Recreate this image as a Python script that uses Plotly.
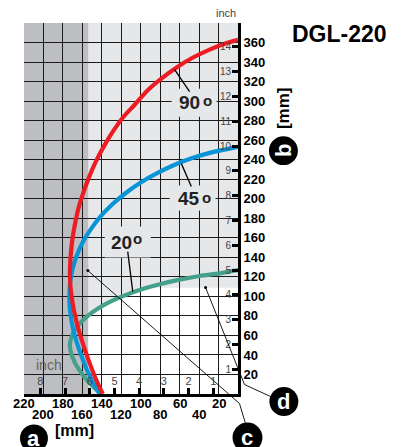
import plotly.graph_objects as go

# ---------------- data (mm) ----------------
red_x = [139, 147.2, 157.4, 165.9, 171.1, 172.8, 172.0, 170.3, 167.7, 164.1, 159.5, 153.3, 146.2, 137.9,
         128.7, 118.5, 106.2, 92.8, 78.5, 63.1, 46.7, 29.2, 13.8, 0]
red_y = [0, 17.9, 45.5, 73.2, 99.8, 120.3, 141.8, 158.1, 173.5, 189.9, 204.7, 221.6, 238.0, 253.6,
         268.7, 283.0, 296.3, 311.2, 323.3, 334.5, 344.4, 352.8, 358.8, 362.8]

blue_x = [142.1, 150.6, 160.8, 169.4, 172.8, 173.3, 172.3, 169.7, 165.6, 159.5, 152.3, 142.1, 129.7,
          115.4, 100.0, 83.6, 66.2, 47.7, 28.2, 0]
blue_y = [0, 14.8, 38.4, 66.0, 86.5, 101.8, 116.6, 129.5, 142.2, 155.6, 167.3, 180.9, 193.8,
          205.9, 216.7, 226.0, 234.3, 241.4, 247.2, 253.2]

green_x = [141.0, 155.7, 167.7, 172.8, 171.8, 168.7, 163.6, 155.4, 145.1, 131.8, 116.4, 99.0, 80.5,
           60.0, 39.5, 19.0, 0]
green_y = [0, 14.8, 32.2, 48.9, 56.4, 63.9, 71.2, 79.3, 86.8, 94.3, 101.0, 107.3, 112.5,
           117.2, 120.9, 123.6, 126.9]

mm_y_ticks = list(range(0, 381, 20))
mm_y_labels = [str(v) if 20 <= v <= 360 else "" for v in mm_y_ticks]
mm_x_ticks = list(range(0, 221, 20))
mm_x_labels = list(range(20, 221, 20))
inch_bottom = [1, 2, 3, 4, 5, 6, 7, 8]
inch_right = list(range(1, 15))

dark_zone_start = 154   # mm, dark grey band to the left of this
white_top = 109         # mm, white area under the 20° curve below this

curve_labels = [("90", 190, 102.5, 208.3, 100.5), ("45", 189, 199, 206.7, 197.5),
                ("20", 121.5, 242.5, 137.5, 239)]

RED = "#ec1c24"
BLUE = "#0994d8"
GREEN = "#44a08a"
DARK = "#bdbec2"
LIGHT = "#e6e7e9"
FONT = "Liberation Sans"

# ---------------- geometry (page pixels; the page body adds an 8px offset) ----------------
OFF = 8
L, R, T, B = 24, 238.5, 23.3, 394.5
W, H = R - L, B - T


def P(px, py):
    return (px - L) / W, (B - py) / H


fig = go.Figure()

for xs, ys, col in [(green_x, green_y, GREEN), (blue_x, blue_y, BLUE), (red_x, red_y, RED)]:
    fig.add_trace(go.Scatter(x=xs, y=ys, mode="lines",
                             line=dict(color=col, width=4.2, shape="spline", smoothing=0.8),
                             hoverinfo="skip", showlegend=False))

# invisible trace for the inch axes
fig.add_trace(go.Scatter(x=inch_bottom, y=inch_bottom, xaxis="x2", yaxis="y2", mode="markers",
                         marker=dict(opacity=0), hoverinfo="skip", showlegend=False))

# ---------------- background zones ----------------
pts = []
for i in range(len(green_x)):
    if green_y[i] <= white_top:
        pts.append((green_x[i], green_y[i]))
    else:
        x0, y0 = green_x[i - 1], green_y[i - 1]
        x1, y1 = green_x[i], green_y[i]
        t = (white_top - y0) / (y1 - y0)
        pts.append((x0 + t * (x1 - x0), white_top))
        break
pts += [(0, white_top), (0, 0)]
path = "M " + " L ".join(f"{x},{y}" for x, y in pts) + " Z"

shapes = [
    dict(type="path", path=path, xref="x", yref="y", fillcolor="white", line_width=0, layer="below"),
    dict(type="rect", xref="x", yref="y", x0=0, x1=dark_zone_start, y0=white_top, y1=380,
         fillcolor=LIGHT, line_width=0, layer="below"),
    dict(type="rect", xref="x", yref="y", x0=dark_zone_start, x1=220, y0=0, y1=380,
         fillcolor=DARK, line_width=0, layer="below"),
]

# label boxes
for (x0, y0, x1, y1) in [(172, 89, 217, 117), (170, 186, 216, 211), (105, 227, 151, 258)]:
    a0, b0 = P(x0, y1)
    a1, b1 = P(x1, y0)
    shapes.append(dict(type="rect", xref="paper", yref="paper", x0=a0, x1=a1, y0=b0, y1=b1,
                       fillcolor=LIGHT, line_width=0, layer="above"))


def polyline(points, width=1.0):
    s = "M " + " L ".join("{},{}".format(*P(px, py)) for px, py in points)
    return dict(type="path", path=s, xref="paper", yref="paper",
                line=dict(color="black", width=width), layer="above")


shapes.append(polyline([(175, 70), (190, 92)], 1.3))
shapes.append(polyline([(181.7, 164), (191.7, 187)], 1.3))
shapes.append(polyline([(128, 252), (133, 292)], 1.3))
shapes.append(polyline([(88, 271), (240, 404), (246, 424)], 0.9))
shapes.append(polyline([(206, 288), (245, 385), (271, 397)], 0.9))
for (px, py) in [(88, 271), (206, 288)]:
    a0, b0 = P(px - 1.5, py + 1.5)
    a1, b1 = P(px + 1.5, py - 1.5)
    shapes.append(dict(type="circle", xref="paper", yref="paper", x0=a0, x1=a1, y0=b0, y1=b1,
                       fillcolor="black", line_width=0, layer="above"))

annotations = []
for (cx, cy, r, letter, ang) in [(34, 439, 14, "a", 0), (284, 151, 14.5, "b", -90),
                                 (248, 438, 15, "c", 0), (284.5, 402, 14.5, "d", 0)]:
    a0, b0 = P(cx - r, cy + r)
    a1, b1 = P(cx + r, cy - r)
    shapes.append(dict(type="circle", xref="paper", yref="paper", x0=a0, x1=a1, y0=b0, y1=b1,
                       fillcolor="black", line_width=0, layer="above"))
    ax, ay = P(cx, cy)
    annotations.append(dict(x=ax, y=ay, xref="paper", yref="paper", text=f"<b>{letter}</b>",
                            showarrow=False, textangle=ang, xanchor="center", yanchor="middle",
                            font=dict(family=FONT, size=22, color="white")))

for txt, tx, ty, ox, oy in curve_labels:
    ax, ay = P(tx, ty)
    annotations.append(dict(x=ax, y=ay, xref="paper", yref="paper", text=f"<b>{txt}</b>",
                            showarrow=False, xanchor="center", yanchor="middle",
                            font=dict(family=FONT, size=19, color="#222")))
    ax, ay = P(ox, oy)
    annotations.append(dict(x=ax, y=ay, xref="paper", yref="paper", text="<b>o</b>",
                            showarrow=False, xanchor="center", yanchor="middle",
                            font=dict(family=FONT, size=15, color="#222")))

for i, v in enumerate(sorted(mm_x_labels, reverse=True)):
    row_py = 404 if i % 2 == 0 else 415.5
    annotations.append(dict(x=v, xref="x", y=P(0, row_py)[1], yref="paper", text=f"<b>{v}</b>",
                            showarrow=False, xanchor="center", yanchor="middle",
                            font=dict(family=FONT, size=13, color="black")))


def text(px, py, s, size, color="black", xanchor="center", angle=0):
    ax, ay = P(px, py)
    annotations.append(dict(x=ax, y=ay, xref="paper", yref="paper", text=s, showarrow=False,
                            xanchor=xanchor, yanchor="middle", textangle=angle,
                            font=dict(family=FONT, size=size, color=color)))


text(340, 34, "<b>DGL-220</b>", 23)
text(53, 431.5, "<b>[mm]</b>", 16, xanchor="left")
text(284, 108, "<b>[mm]</b>", 17, angle=-90)
text(49, 365, "inch", 14, color="#666")
text(238, 13, "inch", 11, color="#444", xanchor="right")

fig.update_layout(
    width=404, height=447,
    margin=dict(l=L - OFF, r=404 - (R - OFF), t=T - OFF, b=447 - (B - OFF), autoexpand=False),
    paper_bgcolor="white", plot_bgcolor=LIGHT,
    showlegend=False,
    shapes=shapes, annotations=annotations,
    xaxis=dict(range=[220, 0], tickvals=mm_x_ticks, showticklabels=False, ticks="",
               showgrid=True, gridcolor="#1a1a1a", gridwidth=1, zeroline=False,
               showline=True, linecolor="black", linewidth=3, fixedrange=True),
    yaxis=dict(range=[0, 380], side="right", tickvals=mm_y_ticks,
               ticktext=[f"<b>{t}</b>" if t else "" for t in mm_y_labels],
               ticks="",
               tickfont=dict(family=FONT, size=13, color="black"),
               showgrid=True, gridcolor="#1a1a1a", gridwidth=1, zeroline=False,
               showline=True, linecolor="black", linewidth=3, fixedrange=True),
    xaxis2=dict(overlaying="x", anchor="y", side="bottom", range=[220 / 25.4, 0],
                tickvals=inch_bottom, ticks="inside", ticklen=6, tickwidth=3, tickcolor="black",
                ticklabelposition="inside", tickfont=dict(family=FONT, size=11, color="#444"),
                showgrid=False, zeroline=False, showline=False, fixedrange=True),
    yaxis2=dict(overlaying="y", anchor="x", side="right", range=[0, 380 / 25.4],
                tickvals=inch_right, ticks="inside", ticklen=6, tickwidth=3, tickcolor="black",
                ticklabelposition="inside", tickfont=dict(family=FONT, size=10, color="#444"),
                showgrid=False, zeroline=False, showline=False, fixedrange=True),
)

fig.write_html("out.html")
